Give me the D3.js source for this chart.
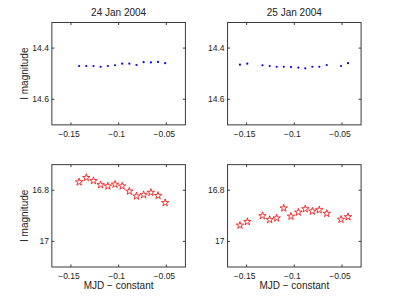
<!DOCTYPE html>
<html>
<head>
<meta charset="utf-8">
<style>
	body { margin: 0; background: #fff; }
	svg text { font-family: "Liberation Sans", Arial, sans-serif; fill: #222; }
</style>
</head>
<body>
<svg id="chart" width="399" height="300"></svg>
<script src="https://d3js.org/d3.v7.min.js"></script>
<script>

// panel titles
var nights = ["24 Jan 2004", "25 Jan 2004"];

// MJD - constant, one list per night
var mjd24 = [-0.1414, -0.1339, -0.1264, -0.1189, -0.1113, -0.1038, -0.0963, -0.0888, -0.0813, -0.0738, -0.0662, -0.0587, -0.0512];
var mjd25 = [-0.157, -0.1493, -0.1334, -0.1258, -0.1185, -0.1111, -0.1035, -0.0958, -0.0885, -0.0811, -0.0738, -0.066, -0.051, -0.0437];

// comparison star (top row)
var compStar24 = [14.470, 14.470, 14.470, 14.473, 14.470, 14.467, 14.461, 14.461, 14.466, 14.455, 14.456, 14.454, 14.459];
var compStar25 = [14.465, 14.461, 14.467, 14.470, 14.473, 14.473, 14.474, 14.476, 14.479, 14.473, 14.473, 14.466, 14.470, 14.459];

// target (bottom row)
var target24 = [16.768, 16.751, 16.763, 16.779, 16.784, 16.777, 16.784, 16.804, 16.823, 16.818, 16.809, 16.821, 16.849];
var target25 = [16.937, 16.923, 16.900, 16.915, 16.909, 16.870, 16.902, 16.886, 16.873, 16.882, 16.877, 16.891, 16.914, 16.904];

var xTicks = [-0.15, -0.1, -0.05];
var xTickLabels = ["\u22120.15", "\u22120.1", "\u22120.05"];
var yTicksTop = [14.4, 14.6];
var yTicksBottom = [16.8, 17];

var W = 399, H = 300;
var svg = d3.select("#chart");

// matlab-ish subplot positions (fractions of figure)
var cols = [0.13, 0.5703], rows = [0.075, 0.5488];
var pw = 0.3347 * W, ph = 0.3412 * H;

var panels = [
	{ col: 0, row: 0, x: mjd24, y: compStar24, yDom: [14.3, 14.7], yt: yTicksTop, kind: "dot", title: nights[0], ylab: true },
	{ col: 1, row: 0, x: mjd25, y: compStar25, yDom: [14.3, 14.7], yt: yTicksTop, kind: "dot", title: nights[1] },
	{ col: 0, row: 1, x: mjd24, y: target24, yDom: [16.7, 17.1], yt: yTicksBottom, kind: "star", ylab: true, xlab: true },
	{ col: 1, row: 1, x: mjd25, y: target25, yDom: [16.7, 17.1], yt: yTicksBottom, kind: "star", xlab: true }
];

var star = d3.symbol().type(d3.symbolStar).size(17);

panels.forEach(function(p) {
	var left = cols[p.col] * W, top = rows[p.row] * H;
	var g = svg.append("g").attr("transform", "translate(" + left + "," + top + ")");

	var x = d3.scaleLinear().domain([-0.17, -0.03]).range([0, pw]);
	var y = d3.scaleLinear().domain(p.yDom).range([0, ph]);

	var axCol = "#3a3a3a";

	// ticks on all sides, pointing in
	xTicks.forEach(function(t, i) {
		g.append("line").attr("x1", x(t)).attr("x2", x(t)).attr("y1", ph).attr("y2", ph - 2.5).attr("stroke", axCol);
		g.append("line").attr("x1", x(t)).attr("x2", x(t)).attr("y1", 0).attr("y2", 2.5).attr("stroke", axCol);
		g.append("text").attr("x", x(t) - 2).attr("y", ph + 12.5)
			.attr("text-anchor", "middle").style("font-size", "8.5px").text(xTickLabels[i]);
	});
	p.yt.forEach(function(t) {
		g.append("line").attr("x1", 0).attr("x2", 2.5).attr("y1", y(t)).attr("y2", y(t)).attr("stroke", axCol);
		g.append("line").attr("x1", pw).attr("x2", pw - 2.5).attr("y1", y(t)).attr("y2", y(t)).attr("stroke", axCol);
		g.append("text").attr("x", -3).attr("y", y(t) + 3)
			.attr("text-anchor", "end").style("font-size", "8.5px").text(String(t));
	});

	g.append("rect").attr("width", pw).attr("height", ph)
		.attr("fill", "none").attr("stroke", axCol).attr("stroke-width", 1);

	var pts = p.x.map(function(v, i) { return [v, p.y[i]]; });
	if (p.kind == "dot") {
		g.selectAll("circle.pt").data(pts).enter().append("circle")
			.attr("cx", function(d) { return x(d[0]); })
			.attr("cy", function(d) { return y(d[1]); })
			.attr("r", 1.1).attr("fill", "#0000ff");
	} else {
		g.selectAll("path.pt").data(pts).enter().append("path")
			.attr("d", star)
			.attr("transform", function(d) { return "translate(" + x(d[0]) + "," + y(d[1]) + ")"; })
			.attr("fill", "none").attr("stroke", "#ff0000").attr("stroke-width", 0.8);
	}

	if (p.title) {
		g.append("text").attr("x", pw / 2).attr("y", -6.5)
			.attr("text-anchor", "middle").style("font-size", "10px").text(p.title);
	}
	if (p.ylab) {
		g.append("text").attr("transform", "translate(" + (28 - left) + "," + (ph / 2) + ") rotate(-90)")
			.attr("text-anchor", "middle").style("font-size", "10px").text("I magnitude");
	}
	if (p.xlab) {
		g.append("text").attr("x", pw / 2).attr("y", ph + 22.5)
			.attr("text-anchor", "middle").style("font-size", "10px").text("MJD \u2212 constant");
	}
});
</script>
</body>
</html>
